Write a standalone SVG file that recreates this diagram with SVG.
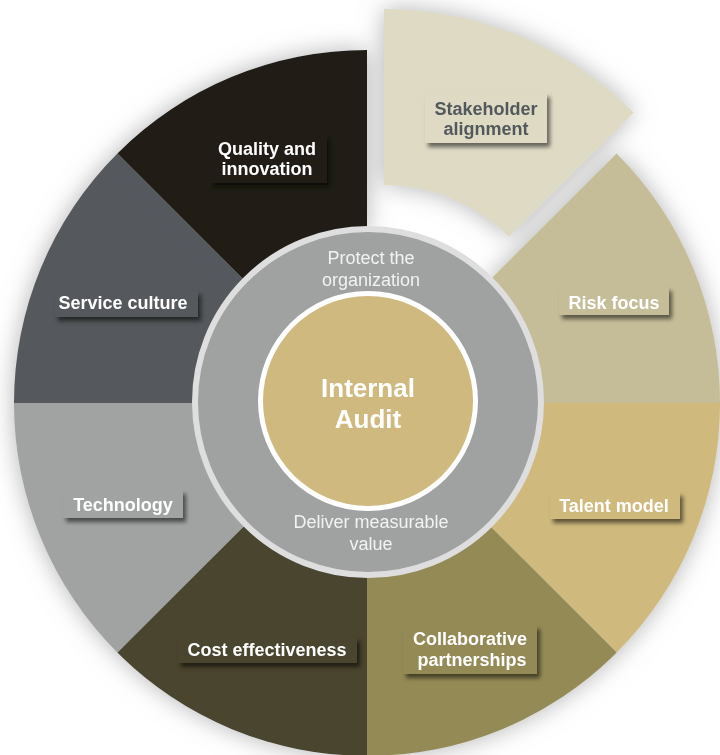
<svg xmlns="http://www.w3.org/2000/svg" width="720" height="755" viewBox="0 0 720 755">
  <defs>
    <filter id="glow" x="-20%" y="-20%" width="140%" height="140%">
      <feGaussianBlur in="SourceAlpha" stdDeviation="12" result="b"/>
      <feFlood flood-color="#808080" flood-opacity="0.6"/>
      <feComposite in2="b" operator="in" result="s"/>
      <feMerge><feMergeNode in="s"/><feMergeNode in="SourceGraphic"/></feMerge>
    </filter>
    <filter id="boxshadow" x="-20%" y="-30%" width="150%" height="180%">
      <feDropShadow dx="3" dy="4" stdDeviation="2.2" flood-color="#000" flood-opacity="0.55"/>
    </filter>
  </defs>
  <style>
    .lbl { font-family: "Liberation Sans", Arial, sans-serif; font-weight: bold; font-size: 18px; fill: #ffffff; text-anchor: middle; }
    .dark { fill: #53595d; }
    .ring { font-family: "Liberation Sans", Arial, sans-serif; font-size: 18px; fill: #f2f2f2; text-anchor: middle; }
    .core { font-family: "Liberation Sans", Arial, sans-serif; font-weight: bold; font-size: 26px; fill: #ffffff; text-anchor: middle; }
    .box { filter: url(#boxshadow); }
  </style>
  <rect width="720" height="755" fill="#ffffff"/>

  <g id="wheel" filter="url(#glow)">
    <g id="stakeholder-alignment" transform="translate(17,-41)">
      <path d="M367,226 L367,50 A353,353 0 0 1 616.61,153.39 L492.16,277.84 A177,177 0 0 0 367,226 Z" fill="#dedac4"/>
      <rect class="box" x="408" y="134" width="122" height="50" fill="#dedac4"/>
      <text class="lbl dark" x="469" y="156">Stakeholder</text>
      <text class="lbl dark" x="469" y="176">alignment</text>
    </g>
    <g id="risk-focus">
      <path d="M487.21,282.79 L616.61,153.39 A353,353 0 0 1 720,403 L537,403 A170,170 0 0 0 487.21,282.79 Z" fill="#c5bd98"/>
      <rect class="box" x="559" y="287" width="110" height="28" fill="#c5bd98"/>
      <text class="lbl" x="614" y="309">Risk focus</text>
    </g>
    <g id="talent-model">
      <path d="M537,403 L720,403 A353,353 0 0 1 616.61,652.61 L487.21,523.21 A170,170 0 0 0 537,403 Z" fill="#cfb97d"/>
      <rect class="box" x="550" y="492" width="130" height="27" fill="#cfb97d"/>
      <text class="lbl" x="614" y="512">Talent model</text>
    </g>
    <g id="collaborative-partnerships">
      <path d="M487.21,523.21 L616.61,652.61 A353,353 0 0 1 367,756 L367,573 A170,170 0 0 0 487.21,523.21 Z" fill="#948a55"/>
      <rect class="box" x="403" y="625" width="134" height="49" fill="#948a55"/>
      <text class="lbl" x="470" y="645">Collaborative</text>
      <text class="lbl" x="472" y="666">partnerships</text>
    </g>
    <g id="cost-effectiveness">
      <path d="M367,573 L367,756 A353,353 0 0 1 117.39,652.61 L246.79,523.21 A170,170 0 0 0 367,573 Z" fill="#4a442d"/>
      <rect class="box" x="178" y="637" width="179" height="26" fill="#4a442d"/>
      <text class="lbl" x="267" y="656">Cost effectiveness</text>
    </g>
    <g id="technology">
      <path d="M246.79,523.21 L117.39,652.61 A353,353 0 0 1 14,403 L197,403 A170,170 0 0 0 246.79,523.21 Z" fill="#a1a2a2"/>
      <rect class="box" x="63" y="490" width="120" height="28" fill="#a1a2a2"/>
      <text class="lbl" x="123" y="511">Technology</text>
    </g>
    <g id="service-culture">
      <path d="M197,403 L14,403 A353,353 0 0 1 117.39,153.39 L246.79,282.79 A170,170 0 0 0 197,403 Z" fill="#54585b"/>
      <rect class="box" x="55" y="291" width="143" height="26" fill="#54585b"/>
      <text class="lbl" x="123" y="309">Service culture</text>
    </g>
    <g id="quality-and-innovation">
      <path d="M246.79,282.79 L117.39,153.39 A353,353 0 0 1 367,50 L367,233 A170,170 0 0 0 246.79,282.79 Z" fill="#201e14"/>
      <rect class="box" x="210" y="135" width="117" height="48" fill="#201e14"/>
      <text class="lbl" x="267" y="155">Quality and</text>
      <text class="lbl" x="267" y="175">innovation</text>
    </g>
  </g>

  <g id="ring">
    <circle cx="368" cy="402" r="173" fill="#a0a2a2" stroke="#dedede" stroke-width="6"/>
    <text class="ring" x="371" y="264">Protect the</text>
    <text class="ring" x="371" y="286">organization</text>
    <text class="ring" x="371" y="528">Deliver measurable</text>
    <text class="ring" x="371" y="550">value</text>
  </g>

  <g id="internal-audit">
    <circle cx="368" cy="401" r="110" fill="#ffffff"/>
    <circle cx="368" cy="401" r="105" fill="#cfb97e"/>
    <text class="core" x="368" y="397">Internal</text>
    <text class="core" x="368" y="428">Audit</text>
  </g>

  <g id="connectors"/>
</svg>
